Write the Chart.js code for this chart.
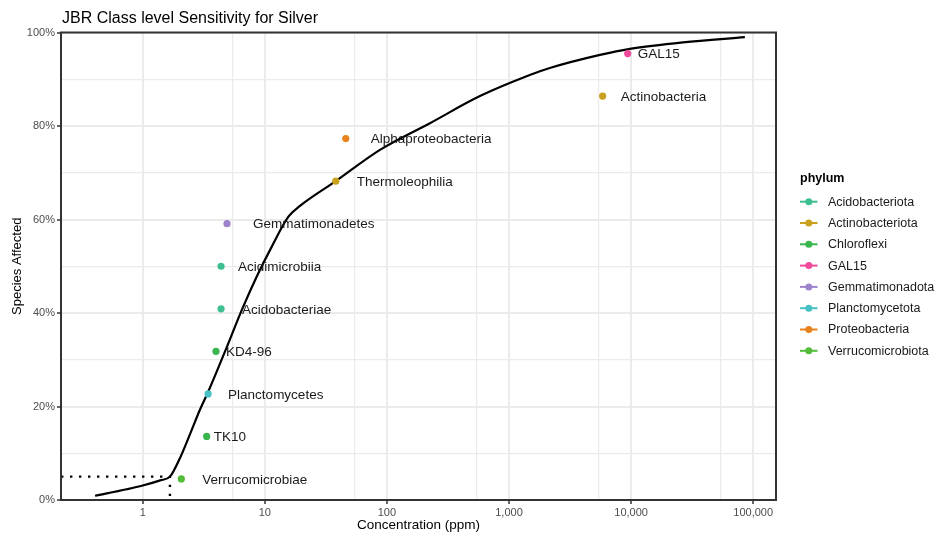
<!DOCTYPE html>
<html>
<head>
<meta charset="utf-8">
<title>JBR Class level Sensitivity for Silver</title>
<script src="https://cdn.jsdelivr.net/npm/chart.js@4.4.1/dist/chart.umd.min.js"></script>
<style>
  html, body { margin: 0; padding: 0; background: #ffffff; }
  #wrap { width: 938px; height: 536px; }
</style>
</head>
<body>
<div id="wrap"><canvas id="ssdChart" width="938" height="536"></canvas></div>
<script>
// Species sensitivity distribution, class level, silver

var FONT = "'Liberation Sans', Arial, Helvetica, sans-serif";

// one point per class: name, phylum, concentration (ppm), % species affected
var classNames = ['Verrucomicrobiae', 'TK10', 'Planctomycetes', 'KD4-96', 'Acidobacteriae',
    'Acidimicrobiia', 'Gemmatimonadetes', 'Thermoleophilia', 'Alphaproteobacteria',
    'Actinobacteria', 'GAL15'];
var classPhylum = ['Verrucomicrobiota', 'Chloroflexi', 'Planctomycetota', 'Chloroflexi', 'Acidobacteriota',
    'Acidobacteriota', 'Gemmatimonadota', 'Actinobacteriota', 'Proteobacteria',
    'Actinobacteriota', 'GAL15'];
var classConc = [2.07, 3.34, 3.43, 3.98, 4.38, 4.38, 4.90, 38.1, 46.0, 5850, 9380];
var classAffected = [4.5, 13.6, 22.7, 31.8, 40.9, 50.0, 59.1, 68.2, 77.3, 86.4, 95.5];

// fitted curve
var curveConc = [0.407, 0.74, 1.0, 1.39, 1.67, 2.02, 2.44, 2.94, 3.43, 4.88, 6.47, 8.59,
    11.4, 15.6, 19.4, 37.6, 87.7, 225, 578, 1480, 2160, 5560, 9770, 26600, 85500];
var curveAffected = [0.9, 2.3, 3.1, 4.2, 5.0, 9.0, 14.1, 19.3, 23.1, 32.7, 40.6, 47.8,
    54.2, 60.6, 62.9, 68.1, 74.9, 80.6, 86.4, 90.9, 92.4, 95.2, 96.5, 97.9, 99.0];

// HC5 guide
var hc5Conc = 1.67;
var hc5Level = 5;

var phylumNames = ['Acidobacteriota', 'Actinobacteriota', 'Chloroflexi', 'GAL15',
    'Gemmatimonadota', 'Planctomycetota', 'Proteobacteria', 'Verrucomicrobiota'];

// axes
var xTicks = [1, 10, 100, 1000, 10000, 100000];
var xMinorTicks = [5.4, 54, 540, 5400, 54000];
var yTicks = [0, 20, 40, 60, 80, 100];
var yMinorTicks = [10, 30, 50, 70, 90];
var X_MIN = 0.214, X_MAX = 153800;

var phylumColors = {
    'Acidobacteriota': '#3dbf8f',
    'Actinobacteriota': '#c9a11e',
    'Chloroflexi': '#38b54c',
    'GAL15': '#ef4a9c',
    'Gemmatimonadota': '#9d83cc',
    'Planctomycetota': '#47c1c4',
    'Proteobacteria': '#e8821c',
    'Verrucomicrobiota': '#52bc3a'
};

// horizontal shift of each text label from its point
var labelShift = [21, 7, 20, 10, 21, 17, 26, 21, 25, 18, 10];

function isMajorX(v) { return xTicks.indexOf(v) >= 0; }
function isMajorY(v) { return yTicks.indexOf(v) >= 0; }

var pointData = classConc.map(function(c, i) { return { x: c, y: classAffected[i] }; });
var curveData = curveConc.map(function(c, i) { return { x: c, y: curveAffected[i] }; });
var hc5Data = [
    { x: X_MIN, y: hc5Level },
    { x: hc5Conc, y: hc5Level },
    { x: hc5Conc, y: 0 }
];

// title, point labels, panel border and legend
var decorPlugin = {
    id: 'decor',
    afterDatasetsDraw: function(chart) {
        var ctx = chart.ctx;
        var meta = chart.getDatasetMeta(0);
        ctx.save();
        ctx.font = '13.5px ' + FONT;
        ctx.fillStyle = '#1a1a1a';
        ctx.textAlign = 'left';
        ctx.textBaseline = 'middle';
        meta.data.forEach(function(pt, i) {
            ctx.fillText(classNames[i], pt.x + labelShift[i], pt.y + 1);
        });
        ctx.restore();
    },
    afterDraw: function(chart) {
        var ctx = chart.ctx;
        var a = chart.chartArea;
        ctx.save();

        // panel border
        ctx.strokeStyle = '#333333';
        ctx.lineWidth = 2;
        ctx.strokeRect(a.left, a.top, a.right - a.left, a.bottom - a.top);

        // title
        ctx.fillStyle = '#000000';
        ctx.font = '16px ' + FONT;
        ctx.textAlign = 'left';
        ctx.textBaseline = 'alphabetic';
        ctx.fillText('JBR Class level Sensitivity for Silver', 62, 22.5);

        // legend
        var lx = 800, ly = 201.7, step = 21.3;
        ctx.font = 'bold 12.5px ' + FONT;
        ctx.textBaseline = 'middle';
        ctx.fillText('phylum', lx, 179);
        ctx.font = '12.5px ' + FONT;
        phylumNames.forEach(function(name, i) {
            var y = ly + i * step;
            var col = phylumColors[name];
            ctx.strokeStyle = col;
            ctx.lineWidth = 2;
            ctx.beginPath();
            ctx.moveTo(lx, y);
            ctx.lineTo(lx + 17.5, y);
            ctx.stroke();
            ctx.fillStyle = col;
            ctx.beginPath();
            ctx.arc(lx + 8.8, y, 3.5, 0, Math.PI * 2);
            ctx.fill();
            ctx.fillStyle = '#1a1a1a';
            ctx.fillText(name, 828, y + 0.5);
        });
        ctx.restore();
    }
};

new Chart(document.getElementById('ssdChart').getContext('2d'), {
    type: 'scatter',
    data: {
        datasets: [
            {
                label: 'classes',
                data: pointData,
                pointRadius: 3.6,
                pointHoverRadius: 3.6,
                pointBorderWidth: 0,
                pointBackgroundColor: classPhylum.map(function(p) { return phylumColors[p]; }),
                pointBorderColor: classPhylum.map(function(p) { return phylumColors[p]; })
            },
            {
                label: 'curve',
                data: curveData,
                showLine: true,
                borderColor: '#000000',
                borderWidth: 2.2,
                pointRadius: 0,
                pointHoverRadius: 0,
                cubicInterpolationMode: 'monotone'
            },
            {
                label: 'HC5',
                data: hc5Data,
                showLine: true,
                borderColor: '#000000',
                borderWidth: 2.4,
                borderDash: [2.4, 6.6],
                borderCapStyle: 'butt',
                pointRadius: 0,
                pointHoverRadius: 0
            }
        ]
    },
    options: {
        responsive: false,
        animation: false,
        devicePixelRatio: 1,
        layout: {
            padding: { left: 0, top: 32.5, right: 162, bottom: 0 }
        },
        plugins: {
            legend: { display: false },
            title: { display: false },
            tooltip: { enabled: false }
        },
        scales: {
            x: {
                type: 'logarithmic',
                min: X_MIN,
                max: X_MAX,
                afterBuildTicks: function(scale) {
                    scale.ticks = xTicks.concat(xMinorTicks)
                        .sort(function(a, b) { return a - b; })
                        .map(function(v) { return { value: v }; });
                },
                afterFit: function(scale) { scale.height = 36; },
                border: { display: false },
                grid: {
                    color: '#ebebeb',
                    lineWidth: function(c) { return c.tick && isMajorX(c.tick.value) ? 2 : 1.2; },
                    tickLength: 4,
                    tickWidth: 1.5,
                    tickColor: function(c) { return c.tick && isMajorX(c.tick.value) ? '#333333' : 'rgba(0,0,0,0)'; }
                },
                ticks: {
                    autoSkip: false,
                    maxRotation: 0,
                    padding: 2,
                    color: '#4d4d4d',
                    font: { family: FONT, size: 11 },
                    callback: function(v) {
                        return isMajorX(v) ? v.toLocaleString('en-US') : '';
                    }
                },
                title: {
                    display: true,
                    text: 'Concentration (ppm)',
                    color: '#000000',
                    font: { family: FONT, size: 13.5 },
                    padding: { top: 0, bottom: 3 }
                }
            },
            y: {
                type: 'linear',
                min: 0,
                max: 100,
                afterBuildTicks: function(scale) {
                    scale.ticks = yTicks.concat(yMinorTicks)
                        .sort(function(a, b) { return a - b; })
                        .map(function(v) { return { value: v }; });
                },
                afterFit: function(scale) { scale.width = 61; },
                border: { display: false },
                grid: {
                    color: '#ebebeb',
                    lineWidth: function(c) { return c.tick && isMajorY(c.tick.value) ? 2 : 1.2; },
                    tickLength: 4,
                    tickWidth: 1.5,
                    tickColor: function(c) { return c.tick && isMajorY(c.tick.value) ? '#333333' : 'rgba(0,0,0,0)'; }
                },
                ticks: {
                    autoSkip: false,
                    padding: 2,
                    color: '#4d4d4d',
                    font: { family: FONT, size: 11 },
                    callback: function(v) { return isMajorY(v) ? v + '%' : ''; }
                },
                title: {
                    display: true,
                    text: 'Species Affected',
                    color: '#000000',
                    font: { family: FONT, size: 13 },
                    padding: { top: 10, bottom: 0 }
                }
            }
        }
    },
    plugins: [decorPlugin]
});
</script>
</body>
</html>
